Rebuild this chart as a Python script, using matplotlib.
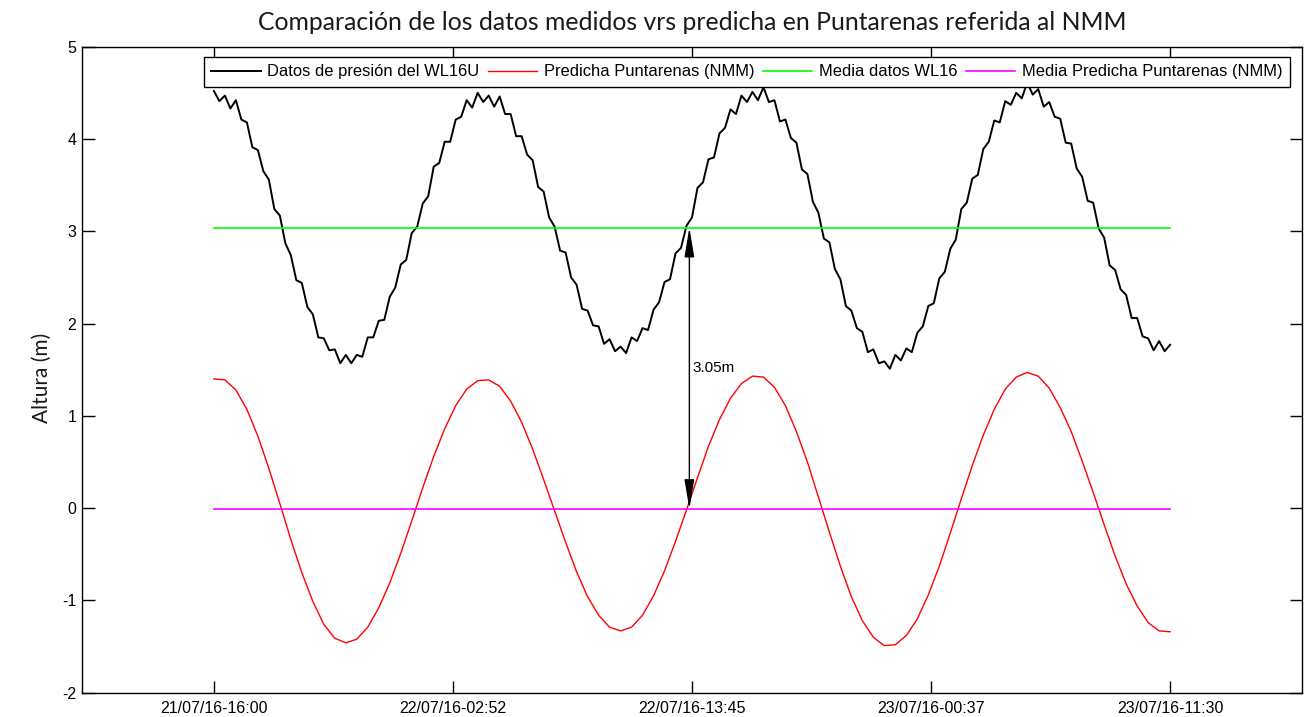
import numpy as np
import matplotlib.pyplot as plt

# horas desde 21/07/16-16:00
t_pred = np.arange(0, 43.75, 0.5)
t_med = np.arange(0, 43.75, 0.25)

# marea predicha Puntarenas (NMM), cada 30 min
predicha = [1.40, 1.39, 1.28, 1.07, 0.78, 0.43, 0.05, -0.34, -0.70, -1.01,
            -1.26, -1.41, -1.46, -1.42, -1.29, -1.08, -0.81, -0.49, -0.14, 0.22,
            0.56, 0.86, 1.11, 1.29, 1.38, 1.39, 1.32, 1.16, 0.93, 0.64,
            0.31, -0.03, -0.37, -0.69, -0.96, -1.16, -1.29, -1.33, -1.29, -1.16,
            -0.95, -0.68, -0.36, -0.02, 0.33, 0.67, 0.96, 1.19, 1.35, 1.43,
            1.42, 1.31, 1.11, 0.83, 0.50, 0.12, -0.26, -0.63, -0.96, -1.22,
            -1.40, -1.49, -1.48, -1.38, -1.20, -0.94, -0.63, -0.27, 0.10, 0.46,
            0.79, 1.07, 1.29, 1.42, 1.47, 1.43, 1.30, 1.09, 0.83, 0.51,
            0.17, -0.18, -0.52, -0.82, -1.06, -1.24, -1.33, -1.34]

# datos de presion WL16U, cada 15 min
medidos = [4.52, 4.41, 4.47, 4.33, 4.42, 4.21, 4.18, 3.91, 3.88, 3.65,
           3.56, 3.24, 3.17, 2.87, 2.74, 2.47, 2.44, 2.18, 2.10, 1.85,
           1.84, 1.71, 1.72, 1.57, 1.66, 1.57, 1.66, 1.64, 1.85, 1.85,
           2.03, 2.04, 2.29, 2.39, 2.64, 2.69, 2.98, 3.05, 3.30, 3.38,
           3.70, 3.74, 3.97, 3.97, 4.21, 4.24, 4.42, 4.34, 4.50, 4.40,
           4.47, 4.35, 4.46, 4.27, 4.27, 4.03, 4.03, 3.83, 3.77, 3.48,
           3.43, 3.15, 3.05, 2.79, 2.77, 2.50, 2.42, 2.16, 2.14, 1.98,
           1.97, 1.78, 1.83, 1.70, 1.75, 1.68, 1.85, 1.81, 1.95, 1.93,
           2.15, 2.23, 2.45, 2.48, 2.76, 2.82, 3.06, 3.15, 3.47, 3.53,
           3.78, 3.80, 4.06, 4.12, 4.32, 4.27, 4.47, 4.40, 4.51, 4.42,
           4.56, 4.40, 4.42, 4.19, 4.21, 4.01, 3.96, 3.67, 3.62, 3.32,
           3.20, 2.92, 2.88, 2.59, 2.48, 2.19, 2.14, 1.95, 1.91, 1.69,
           1.72, 1.57, 1.59, 1.51, 1.66, 1.60, 1.73, 1.69, 1.90, 1.97,
           2.19, 2.22, 2.49, 2.56, 2.81, 2.91, 3.24, 3.31, 3.57, 3.61,
           3.89, 3.97, 4.20, 4.18, 4.41, 4.37, 4.50, 4.44, 4.61, 4.48,
           4.54, 4.35, 4.40, 4.24, 4.22, 3.96, 3.95, 3.68, 3.59, 3.33,
           3.31, 3.03, 2.93, 2.63, 2.58, 2.37, 2.31, 2.06, 2.06, 1.86,
           1.84, 1.71, 1.81, 1.70, 1.77]

media_datos = 3.04
media_pred = -0.01
diferencia = 3.05

tick_pos = [0, 10.875, 21.75, 32.625, 43.5]
tick_labels = ['21/07/16-16:00', '22/07/16-02:52', '22/07/16-13:45',
               '23/07/16-00:37', '23/07/16-11:30']

plt.rcParams['font.family'] = ['Liberation Sans', 'DejaVu Sans']
plt.rcParams['axes.unicode_minus'] = False

fig = plt.figure(figsize=(13.1, 7.17), dpi=100)
ax = fig.add_axes([0.0626, 0.0339, 0.9313, 0.901])

l1, = ax.plot(t_med, medidos, color='k', lw=1.4)
l2, = ax.plot(t_pred, predicha, color=(1, 0, 0), lw=1.0)
l3, = ax.plot([0, 43.5], [media_datos, media_datos], color=(0, 1, 0), lw=1.2)
l4, = ax.plot([0, 43.5], [media_pred, media_pred], color=(1, 0, 1), lw=1.2)

ax.annotate('', xy=(21.63, media_datos), xytext=(21.63, media_pred),
            arrowprops=dict(arrowstyle='<|-|>,head_length=0.9,head_width=0.15',
                            color='k', lw=1.0, shrinkA=0, shrinkB=0,
                            mutation_scale=20))
ax.text(21.78, 1.52, '%.2fm' % diferencia, fontsize=11, ha='left', va='center')

ax.set_xlim(-6, 49.5)
ax.set_ylim(-2, 5)
ax.set_xticks(tick_pos)
ax.set_xticklabels(tick_labels)
ax.set_yticks(range(-2, 6))
ax.tick_params(direction='in', length=9, width=1, labelsize=11.5,
               top=True, right=True, colors='k')
ax.tick_params(axis='x', pad=6)
ax.tick_params(axis='y', pad=4)
for s in ax.spines.values():
    s.set_linewidth(1.0)

ax.set_title('Comparación de los datos medidos vrs predicha en Puntarenas referida al NMM',
             family='Lato', fontsize=17.8, color='#1a1a1a', pad=12)
ax.set_ylabel('Altura (m)', family='Lato', fontsize=15, color='#1a1a1a')
ax.yaxis.set_label_coords(-0.025, 0.487)

leg = ax.legend([l1, l2, l3, l4],
                ['Datos de presión del WL16U', 'Predicha Puntarenas (NMM)',
                 'Media datos WL16', 'Media Predicha Puntarenas (NMM)'],
                ncol=4, loc='upper right', bbox_to_anchor=(0.990, 0.984),
                fontsize=11.9, handlelength=3.0, handletextpad=0.4,
                columnspacing=0.5, borderpad=0.45, borderaxespad=0,
                fancybox=False, framealpha=1, edgecolor='k')
leg.get_frame().set_linewidth(1.0)

plt.savefig('out.png', dpi=100)
